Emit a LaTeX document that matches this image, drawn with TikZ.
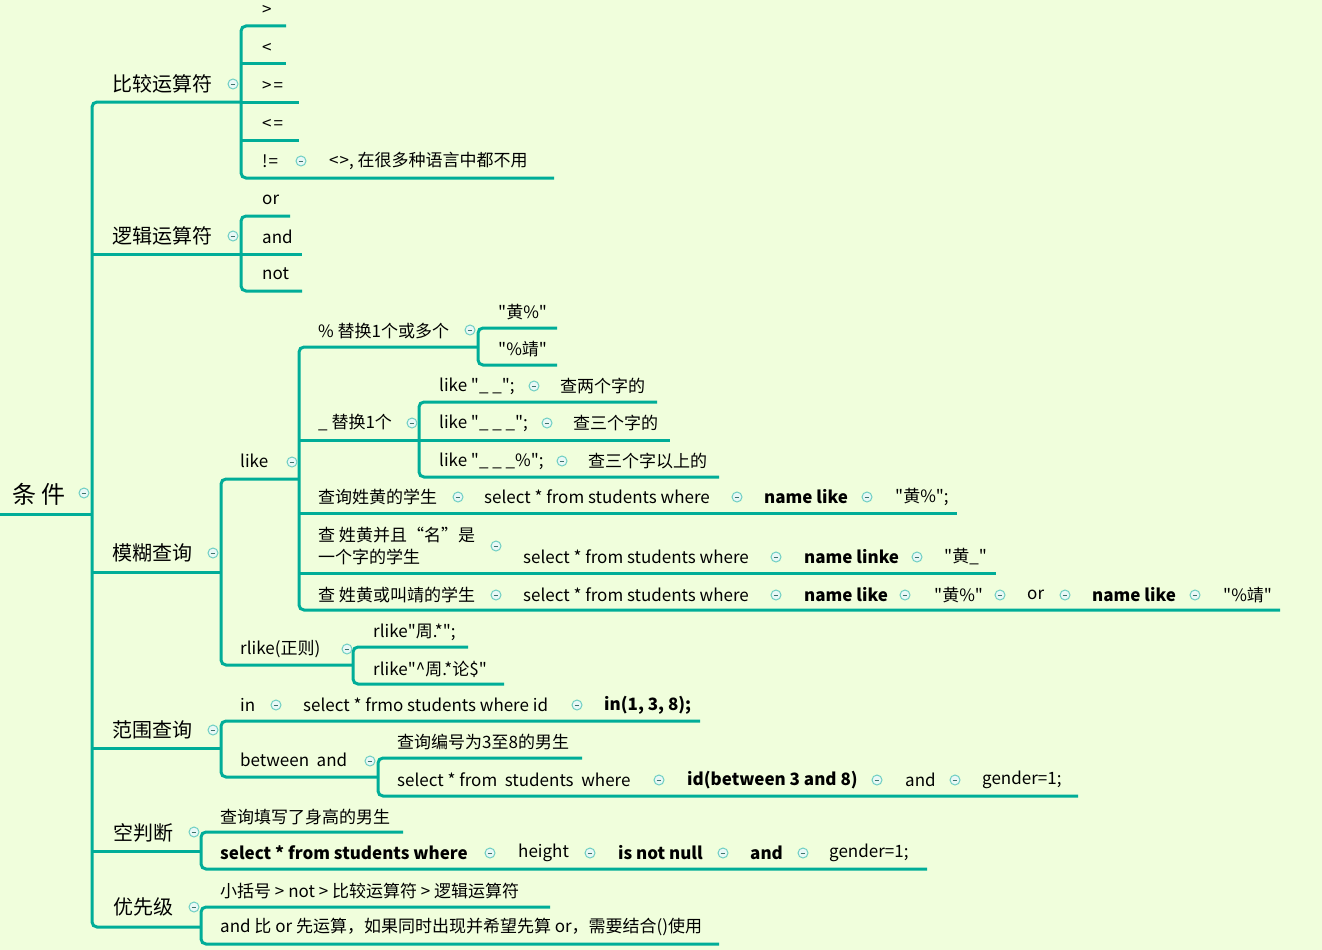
\documentclass[tikz,border=0pt]{standalone}
\usepackage{fontspec}
\setmainfont{Noto Sans CJK SC}
\newfontfamily\cnf{Noto Sans CJK SC}
\definecolor{lncol}{HTML}{00AD98}
\definecolor{bgcol}{HTML}{F0FEDC}
\definecolor{iccol}{HTML}{6FCFC3}
\tikzset{
  leaf/.style={anchor=west, inner sep=0pt, text=black, font=\cnf\fontsize{17}{22}\selectfont},
  boldleaf/.style={leaf, font=\cnf\fontsize{17}{22}\selectfont\bfseries},
  lvl/.style={leaf, font=\cnf\fontsize{20}{24}\selectfont},
  rootf/.style={leaf, font=\cnf\fontsize{24}{28}\selectfont},
  conn/.style={draw=lncol, line width=3pt, rounded corners=5pt},
  tog/.style={circle, draw=iccol, fill=white!85!iccol, line width=1pt, minimum size=10pt, inner sep=0pt,
    path picture={\draw[black!45!iccol, line width=1pt] ([xshift=-2.4pt]path picture bounding box.center) -- ([xshift=2.4pt]path picture bounding box.center);}}
}
\begin{document}
\begin{tikzpicture}[x=1pt,y=-1pt]
\fill[bgcol] (0,0) rectangle (1322,950);
\useasboundingbox (0,0) rectangle (1322,950);
% ---------- connectors ----------
\draw[conn] (0,514) -- (92,514);
\draw[conn] (241,102) -- (92,102) -- (92,927) -- (201,927);
\draw[conn] (92,254) -- (241,254);
\draw[conn] (92,572) -- (221,572);
\draw[conn] (92,748) -- (221,748);
\draw[conn] (92,851) -- (201,851);
% comparison
\draw[conn] (286,26) -- (241,26) -- (241,178) -- (554,178);
\draw[conn] (241,64) -- (286,64);
\draw[conn] (241,102) -- (299,102);
\draw[conn] (241,140) -- (299,140);
% logic
\draw[conn] (290,216) -- (241,216) -- (241,291) -- (302,291);
\draw[conn] (241,254) -- (302,254);
% fuzzy
\draw[conn] (299,479) -- (221,479) -- (221,665) -- (353,665);
\draw[conn] (478,347) -- (299,347) -- (299,610) -- (1280,610);
\draw[conn] (299,440) -- (419,440);
\draw[conn] (299,513) -- (957,513);
\draw[conn] (299,573) -- (996,573);
\draw[conn] (557,328) -- (478,328) -- (478,365) -- (557,365);
\draw[conn] (657,402) -- (419,402) -- (419,477) -- (719,477);
\draw[conn] (419,440) -- (670,440);
\draw[conn] (468,647) -- (353,647) -- (353,684) -- (504,684);
% range
\draw[conn] (700,721) -- (221,721) -- (221,777) -- (378,777);
\draw[conn] (582,758) -- (378,758) -- (378,796) -- (1078,796);
% null
\draw[conn] (403,832) -- (201,832) -- (201,869) -- (927,869);
% priority
\draw[conn] (550,907) -- (201,907) -- (201,944) -- (719,944);

% ---------- root ----------
\node[rootf] (root) at (12,494) {条 件};
\node[tog] (troot) at (84,493) {};
% ---------- level 1 ----------
\node[lvl] (cmp) at (112,84) {比较运算符};
\node[tog] (tcmp) at (233,84) {};
\node[lvl] (logic) at (112,236) {逻辑运算符};
\node[tog] (tlogic) at (233,236) {};
\node[lvl] (fuzzy) at (112,553) {模糊查询};
\node[tog] (tfuzzy) at (213,553) {};
\node[lvl] (range) at (112,730) {范围查询};
\node[tog] (trange) at (213,730) {};
\node[lvl] (null) at (113,833) {空判断};
\node[tog] (tnull) at (194,832) {};
\node[lvl] (prio) at (113,907) {优先级};
\node[tog] (tprio) at (194,907) {};
% ---------- comparison ----------
\node[leaf] (gt) at (262,10) {>};
\node[leaf] (lt) at (262,48) {<};
\node[leaf] (ge) at (262,86) {>\kern2pt=};
\node[leaf] (le) at (262,124) {<\kern2pt=};
\node[leaf] (ne) at (262,161) {!\kern1pt=};
\node[tog] (tne) at (301,161) {};
\node[leaf] (neq) at (329,161) {<\kern1pt>, 在很多种语言中都不用};
% ---------- logic ----------
\node[leaf] (lor) at (262,200) {or};
\node[leaf] (land) at (262,237) {and};
\node[leaf] (lnot) at (262,274) {not};
% ---------- fuzzy ----------
\node[leaf] (like) at (240,461) {like};
\node[tog] (tlike) at (292,462) {};
\node[leaf] (rlike) at (240,649) {rlike(正则)};
\node[tog] (trlike) at (347,649) {};
\node[leaf] (pct) at (318,331) {\% 替换1个或多个};
\node[tog] (tpct) at (470,330) {};
\node[leaf] (pa) at (498,312) {"黄\%"};
\node[leaf] (pb) at (498,349) {"\%靖"};
\node[leaf] (und) at (318,423) {\_ 替换1个};
\node[tog] (tund) at (412,423) {};
\node[leaf] (ua) at (439,386) {like "\_ \_";};
\node[tog] (tua) at (534,386) {};
\node[leaf] (uaa) at (560,386) {查两个字的};
\node[leaf] (ub) at (439,423) {like "\_ \_ \_";};
\node[tog] (tub) at (547,423) {};
\node[leaf] (ubb) at (573,423) {查三个字的};
\node[leaf] (uc) at (439,461) {like "\_ \_ \_\%";};
\node[tog] (tuc) at (562,461) {};
\node[leaf] (ucc) at (588,461) {查三个字以上的};
\node[leaf] (qa) at (318,497) {查询姓黄的学生};
\node[tog] (tqa) at (458,497) {};
\node[leaf] (qa1) at (484,497) {select * from students where};
\node[tog] (tqa1) at (737,497) {};
\node[boldleaf] (qa2) at (764,497) {name like};
\node[tog] (tqa2) at (867,497) {};
\node[leaf] (qa3) at (895,497) {"黄\%";};
\node[leaf, align=left] (qb) at (318,546) {查 姓黄并且“名”是\\一个字的学生};
\node[tog] (tqb) at (496,546) {};
\node[leaf] (qb1) at (523,557) {select * from students where};
\node[tog] (tqb1) at (776,557) {};
\node[boldleaf] (qb2) at (804,557) {name linke};
\node[tog] (tqb2) at (917,557) {};
\node[leaf] (qb3) at (944,557) {"黄\_"};
\node[leaf] (qc) at (318,595) {查 姓黄或叫靖的学生};
\node[tog] (tqc) at (496,595) {};
\node[leaf] (qc1) at (523,595) {select * from students where};
\node[tog] (tqc1) at (776,595) {};
\node[boldleaf] (qc2) at (804,595) {name like};
\node[tog] (tqc2) at (905,595) {};
\node[leaf] (qc3) at (934,595) {"黄\%"};
\node[tog] (tqc3) at (1000,595) {};
\node[leaf] (qc4) at (1027,595) {or};
\node[tog] (tqc4) at (1065,595) {};
\node[boldleaf] (qc5) at (1092,595) {name like};
\node[tog] (tqc5) at (1195,595) {};
\node[leaf] (qc6) at (1223,595) {"\%靖"};
\node[leaf] (ra) at (373,632) {rlike"周.*";};
\node[leaf] (rb) at (373,669) {rlike"\textasciicircum 周.*论\$"};
% ---------- range ----------
\node[leaf] (rin) at (240,705) {in};
\node[tog] (trin) at (276,705) {};
\node[leaf] (rin1) at (303,705) {select * frmo students where id};
\node[tog] (trin1) at (577,705) {};
\node[boldleaf] (rin2) at (604,705) {in(1, 3, 8);};
\node[leaf] (rbt) at (240,760) {between\ \ and};
\node[tog] (trbt) at (370,761) {};
\node[leaf] (rbt1) at (397,742) {查询编号为3至8的男生};
\node[leaf] (rbt2) at (397,780) {select * from\ \ students\ \ where};
\node[tog] (trbt2) at (659,780) {};
\node[boldleaf] (rbt3) at (687,780) {id(between 3 and 8)};
\node[tog] (trbt3) at (877,780) {};
\node[leaf] (rbt4) at (905,780) {and};
\node[tog] (trbt4) at (955,780) {};
\node[leaf] (rbt5) at (982,780) {gender=1;};
% ---------- null ----------
\node[leaf] (na) at (220,817) {查询填写了身高的男生};
\node[boldleaf] (nb) at (220,853) {select * from students where};
\node[tog] (tnb) at (490,853) {};
\node[leaf] (nb1) at (518,853) {height};
\node[tog] (tnb1) at (590,853) {};
\node[boldleaf] (nb2) at (618,853) {is not null};
\node[tog] (tnb2) at (723,853) {};
\node[boldleaf] (nb3) at (750,853) {and};
\node[tog] (tnb3) at (803,853) {};
\node[leaf] (nb4) at (829,853) {gender=1;};
% ---------- priority ----------
\node[leaf] (pra) at (220,891) {小括号 > not > 比较运算符 > 逻辑运算符};
\node[leaf] (prb) at (220,927) {and 比 or 先运算，如果同时出现并希望先算 or，需要结合()使用};
\end{tikzpicture}
\end{document}
